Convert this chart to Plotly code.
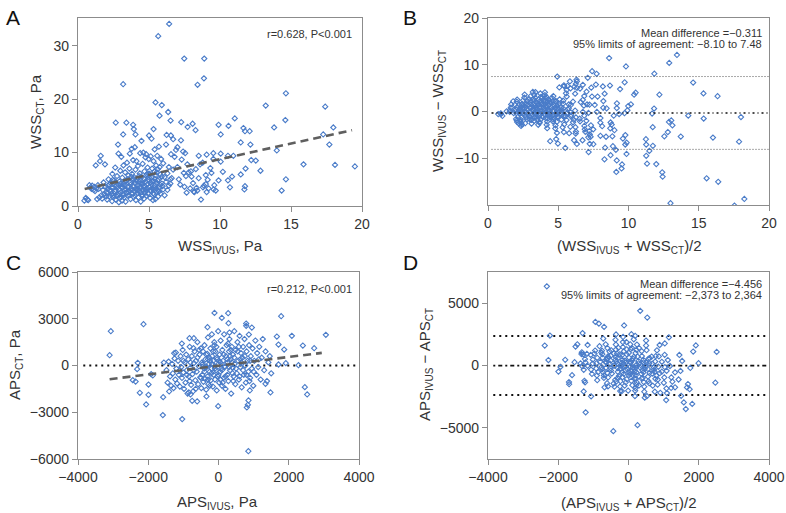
import plotly.graph_objects as go

# ---------------- Panel A / B data: WSS (Pa) ----------------
wss_ivus = [
    6.42, 5.65, 7.48, 8.89, 8.87, 8.42, 3.18,
    5.46, 5.9, 5.74, 6.35, 6.52, 2.66, 3.41, 3.88, 3.93, 7.27, 7.72, 8.07, 8.28, 5.32, 9.9, 10.6, 11.04, 10.05,
    3.18, 4.05, 6.24, 6.54, 7.25, 13.22, 14.64, 17.41, 13.81, 14.6, 11.65, 11.76, 12.09, 11.46, 12.14, 17.27,
    17.98, 17.7, 14.0, 18.1, 19.5, 15.88, 14.64, 14.34, 12.85, 12.52, 12.2, 11.8, 11.76, 11.72, 11.46, 10.85,
    10.7, 10.56, 9.9, 10.2, 10.94, 10.56, 10.05, 9.53, 9.53, 9.06, 8.78, 8.66, 9.55, 9.06, 8.87, 9.13, 9.32,
    10.05, 8.4, 8.2,
    6.1, 6.3, 6.5, 6.6, 6.7, 6.8, 6.9, 7.0, 7.1, 7.2, 7.3, 7.4, 7.45, 7.5, 7.55, 7.6, 7.65, 7.7, 7.8, 7.9,
    7.95, 8.0, 8.1, 8.15, 8.3, 8.35, 8.5, 8.6, 8.8, 9.0, 9.0, 9.2, 9.4, 9.6, 9.7, 8.5, 7.0, 6.2, 6.7, 6.0,
    6.4, 6.55,
    0.45, 0.55, 0.65, 0.72, 0.8, 0.9, 0.95, 1.0, 1.1, 1.15, 1.2, 1.25, 1.3, 1.35, 1.4, 1.45, 1.5, 1.55, 1.6,
    1.65, 1.7, 1.75, 1.8, 1.85, 1.9, 1.95, 2.0, 2.0,
    2.05, 2.1, 2.12, 2.15, 2.2, 2.25, 2.3, 2.35, 2.4, 2.42, 2.45, 2.5, 2.55, 2.6, 2.62, 2.65, 2.7, 2.75, 2.8,
    2.82, 2.85, 2.88, 2.9, 2.92, 2.95, 2.98, 3.0,
    3.05, 3.08, 3.1, 3.12, 3.15, 3.2, 3.22, 3.25, 3.3, 3.32, 3.35, 3.4, 3.42, 3.45, 3.5, 3.52, 3.55, 3.6,
    3.62, 3.65, 3.68, 3.7, 3.75, 3.78, 3.8, 3.82, 3.85, 3.88, 3.9, 3.92, 3.95, 3.98,
    4.0, 4.02, 4.05, 4.08, 4.1, 4.12, 4.15, 4.18, 4.2, 4.22, 4.25, 4.3, 4.32, 4.35, 4.38, 4.4, 4.42, 4.45,
    4.47, 4.5, 4.52, 4.55, 4.58, 4.6, 4.62, 4.65, 4.68, 4.7, 4.72, 4.75, 4.78, 4.8, 4.82, 4.85, 4.88, 4.9,
    4.92, 4.95, 4.98,
    5.0, 5.02, 5.05, 5.08, 5.1, 5.12, 5.15, 5.18, 5.2, 5.22, 5.25, 5.28, 5.3, 5.32, 5.35, 5.38, 5.4, 5.42,
    5.45, 5.48, 5.5, 5.52, 5.55, 5.58, 5.6, 5.62, 5.65, 5.68, 5.7, 5.72, 5.75, 5.78, 5.8, 5.85, 5.9, 5.95,
    2.1, 2.2, 2.3, 2.4, 2.5, 2.6, 2.7, 2.8, 2.9, 3.0, 3.1, 3.2, 3.3, 3.4, 3.5, 3.6, 3.7, 3.8, 3.9, 4.0,
    4.1, 4.2, 4.3, 4.4, 4.5, 4.6, 4.7, 4.8, 4.9, 5.0, 5.1, 5.2, 5.3, 5.4, 5.5, 5.6, 5.7, 5.8, 5.9, 6.0,
    6.1, 6.2, 6.3, 6.4, 6.5, 3.35, 3.55, 3.75, 4.15, 4.35, 4.55, 4.75, 4.95, 5.15, 5.35, 5.55, 2.45, 2.65,
    2.85, 3.05,
]
wss_ct = [
    34.1, 31.8, 27.6, 27.6, 23.9, 22.7, 22.8,
    19.4, 18.9, 16.9, 17.6, 16.0, 15.6, 15.6, 15.2, 14.4, 15.7, 14.8, 15.4, 14.2, 14.4, 15.2, 15.0, 16.4, 13.4,
    13.4, 13.4, 13.3, 13.2, 12.3, 18.8, 21.1, 18.6, 14.7, 16.1, 14.6, 14.0, 14.0, 11.9, 11.5, 13.4,
    14.7, 11.5, 10.4, 7.7, 7.4, 7.8, 5.0, 2.9, 6.6, 8.5, 8.6, 7.0, 3.7, 3.1, 5.9, 5.5,
    3.5, 4.8, 4.8, 6.4, 9.4, 9.4, 9.8, 8.8, 9.9, 9.6, 8.1, 1.2, 3.1, 2.6, 3.8, 4.9, 7.1,
    8.3, 2.9, 2.6,
    2.0, 3.0, 4.2, 5.2, 6.8, 9.2, 10.5, 7.3, 5.0, 4.0, 8.7, 10.2, 6.2, 3.6, 9.9, 5.6, 2.5, 7.8, 6.3, 3.3,
    6.5, 5.5, 4.3, 2.7, 6.9, 3.4, 5.2, 7.8, 3.5, 4.1, 5.8, 3.3, 6.2, 3.9, 2.9, 9.4, 11.0, 11.5, 12.5, 8.0,
    7.3, 9.7,
    1.0, 1.5, 1.2, 1.1, 3.9, 3.5, 3.2, 3.8, 3.0, 3.6, 2.8, 7.6, 3.3, 1.3, 3.9, 3.2, 1.6, 8.4, 9.4,
    2.0, 1.4, 3.0, 4.4, 2.2, 7.8, 3.6, 2.5, 1.8,
    1.2, 2.4, 3.8, 5.0, 1.8, 3.0, 4.3, 2.2, 0.9, 6.0, 3.4, 1.6, 4.8, 2.7, 7.2, 1.2, 3.9, 5.6, 2.1,
    11.5, 9.8, 0.7, 3.1, 4.6, 1.5, 6.6, 2.5,
    9.2, 3.7, 1.0, 5.3, 2.2, 7.6, 4.1, 1.6, 3.0, 6.3, 0.8, 4.8, 2.6, 8.1, 3.6, 1.9, 5.7, 2.9,
    7.0, 9.8, 4.4, 1.3, 3.3, 10.7, 6.0, 2.3, 4.9, 8.6, 3.8, 1.7, 5.4, 2.7,
    11.0, 4.2, 6.8, 1.1, 3.2, 8.4, 5.0, 2.4, 3.9, 7.5, 1.6, 4.6, 2.9, 6.1, 9.9, 3.5, 0.8, 5.5,
    12.2, 2.1, 4.0, 7.9, 3.0, 10.0, 5.2, 1.4, 6.5, 3.7, 2.6, 9.1, 4.5, 9.7, 1.9, 5.9, 3.3, 7.2,
    2.3, 4.9, 8.8,
    13.2, 3.6, 6.0, 1.5, 4.4, 9.3, 2.8, 12.6, 5.3, 7.0, 3.2, 1.1, 4.7, 8.4, 2.2, 6.4, 10.6, 3.9,
    1.3, 5.8, 7.6, 2.6, 4.3, 9.4, 3.0, 6.9, 1.8, 5.0, 11.1, 3.5, 7.3, 4.0, 2.3, 8.8, 5.5, 3.7,
    3.3, 4.0, 2.7, 3.6, 2.0, 4.4, 1.9, 3.5, 2.3, 4.2, 3.4, 2.0, 4.5, 3.1, 5.0, 2.1, 4.0, 3.0, 5.1, 2.0,
    4.7, 3.3, 5.6, 2.5, 4.3, 3.6, 5.0, 2.8, 4.1, 5.4, 3.0, 4.6, 2.4, 5.1, 3.3, 4.8, 2.7, 5.9, 4.2, 3.1,
    5.4, 4.5, 6.1, 3.8, 5.0, 3.9, 2.6, 5.5, 2.9, 4.2, 1.9, 3.1, 6.0, 4.1, 3.5, 6.3, 4.9, 3.0,
    4.0, 1.7,
]

# ---------------- Panel C / D data: APS (Pa) ----------------
aps_ivus = [
    -3100, -3065, -2135, -2300, -2316, -2440, -2360, -2240, -1993, -2060, -1993, -1917, -1870, -1575, -1585,
    -1556, -1404, -1262, -1215, -1044, -826, -702, -712, -1034, -750, -607, -797, -845, -342, -9,
    -114, 95, 275, 285, -313, 313, 788, 788, 949, 864, 1784, 2088, 1661, 3056, 2401, 2724, 2458, 2525,
    2278, 1917, 1708, 1869, 1708, 1480, 1338, 807, 854, 892, 835, 850,
    -1480, -1450, -1420, -1380, -1350, -1320, -1300, -1280, -1250, -1230, -1200, -1180, -1150, -1130,
    -1100, -1080, -1060, -1040, -1020, -1000,
    -980, -960, -940, -920, -900, -880, -860, -840, -820, -800, -780, -760, -740, -720, -700, -680,
    -660, -640, -620, -600, -580, -560, -540, -520, -500,
    -490, -470, -460, -440, -430, -410, -400, -380, -370, -350, -340, -320, -310, -300, -290, -270,
    -260, -250, -230, -220, -200, -190, -180, -160, -150, -140, -120, -110, -100, -90, -70, -60, -50,
    -40, -20, -10, 0,
    20, 30, 50, 60, 80, 100, 110, 130, 150, 160, 180, 200, 210, 230, 250, 260, 280, 300, 310, 330,
    350, 360, 380, 400, 410, 430, 450, 460, 480, 490,
    520, 540, 560, 580, 600, 620, 640, 660, 680, 700, 720, 740, 760, 780, 800, 830, 850, 870, 900,
    920, 950, 970, 990,
    1020, 1050, 1080, 1100, 1130, 1160, 1200, 1230, 1260, 1300, 1340, 1380, 1420, 1460, 1500,
    -900, -800, -700, -600, -500, -450, -400, -350, -300, -250, -200, -150, -100, -50, 0, 50, 100, 150,
    200, 250, 300, 350, 400, 450, 500, 550, 600, 650, 700, 750, 800, 900, 1000, -1100, -1000, -650,
    -550, -250, -120, 120, 270, 420, 580, -380, -180, 20, 180, 380, -820, -300, 60, 330, 620, 880, 1150,
]
aps_ct = [
    660, 2200, 2650, 170, -235, -940, -1030, -1750, -1880, -2500, -1220, -556, -640, -2030, -3184,
    192, -1667, 790, 833, 1410, 1752, 1752, 1111, -3440, -2265, -2307, -1859, -1730, -1987, -2607,
    3376, 3055, 3354, 2713, 2457, 2115, 2692, 2543, 2436, 1987, 3162, 1902, 1859, 1966, 1282, 1111, -1389, -1859,
    21, 150, 64, 1026, 1346, -1730, -1175, -2692, -2243, -1602, -2521, -5500,
    -300, -1100, 250, -700, -1300, 100, -500, -1450, 450, -900, -200, -1150, 300, -600,
    -1350, 600, -100, -800, 1000, -450,
    -1500, 200, -1100, 700, -300, -1800, 400, -700, 1200, -150, -1250, 600, -550, -1650, 150, 900,
    -950, 300, -400, 1500, -1200, -50, 700, -750, 1100,
    -1450, 200, -600, 900, -1050, -200, 1300, -850, 400, -1550, -100, 750, -700, 1800, -1200, 100,
    500, -400, 1100, -950, -200, 2000, 600, -1350, 300, -600, 1500, -50, -900, 900, -300, 1200, -1600,
    400, -700, 2200, 100,
    -1100, 700, -400, 1600, -200, -1300, 1000, 300, -800, 2000, -50, -1500, 600, 1300, -600, 200,
    -1000, 900, 1700, -300, 400, -1800, 1200, -150, 700, -700, 2200, 100, -1200, 1000,
    -500, 1500, 300, -900, 1900, -100, 800, -1400, 500, 1200, -600, 1700, 0, -1100, 900, 300, -400,
    1300, -800, 600, -200, 1100, -1300,
    300, 1600, -600, 800, -100, 1200, -900, 500, 1700, -300, 900, -1000, 200, 600, -500,
    -600, 200, -300, 500, -800, 100, -400, 700, -900, 300, -500, 900, -200, 500, -600, 200, -300, 700,
    -700, 400, -100, 1000, -500, 500, -200, 900, -700, 200, -300, 600, -600, 300, -400, -300, 300, -1500,
    1000, -1300, 1300, -1100, 1400, -1000, 1200, -100, 100, 300, -100, 200, -1000, 400, -900, 600, 400, -1000, 400,
]

# Regression lines (endpoints)
fit_a_x = [0.47, 19.3]
fit_a_y = [3.2, 14.2]
fit_c_x = [-3100, 2940]
fit_c_y = [-880, 810]

# Bland-Altman reference lines
wss_mean_diff = -0.311
wss_loa = [-8.10, 7.48]
aps_mean_diff = -4.456
aps_loa = [-2373, 2364]

# Derived Bland-Altman coordinates
wss_avg = [(a + b) / 2 for a, b in zip(wss_ivus, wss_ct)]
wss_diff = [a - b for a, b in zip(wss_ivus, wss_ct)]
aps_avg = [(a + b) / 2 for a, b in zip(aps_ivus, aps_ct)]
aps_diff = [a - b for a, b in zip(aps_ivus, aps_ct)]

BLUE = "#4a7cc9"
FONT = "Liberation Sans, Arial, sans-serif"
marker = dict(symbol="diamond-open", size=4, color=BLUE, line=dict(width=1.1, color=BLUE))

def sub(t):
    return "<sub><span style='font-size:10px'>" + t + "</span></sub>"

fig = go.Figure()

# A
fig.add_trace(go.Scatter(x=wss_ivus, y=wss_ct, mode="markers", marker=marker, xaxis="x", yaxis="y"))
fig.add_trace(go.Scatter(x=fit_a_x, y=fit_a_y, mode="lines", line=dict(color="#5f5f5f", width=2.6, dash="8px,5px"), xaxis="x", yaxis="y"))
# B
fig.add_trace(go.Scatter(x=wss_avg, y=wss_diff, mode="markers", marker=marker, xaxis="x2", yaxis="y2"))
for v in wss_loa:
    fig.add_trace(go.Scatter(x=[0.25, 20], y=[v, v], mode="lines", line=dict(color="#555", width=1, dash="1px,2px"), xaxis="x2", yaxis="y2"))
fig.add_trace(go.Scatter(x=[0.25, 20], y=[wss_mean_diff, wss_mean_diff], mode="lines", line=dict(color="#111", width=1.6, dash="2px,3px,1px,3px"), xaxis="x2", yaxis="y2"))
# C
fig.add_trace(go.Scatter(x=[-3850, 4000], y=[0, 0], mode="lines", line=dict(color="#111", width=2, dash="2px,4px"), xaxis="x3", yaxis="y3"))
fig.add_trace(go.Scatter(x=aps_ivus, y=aps_ct, mode="markers", marker=marker, xaxis="x3", yaxis="y3"))
fig.add_trace(go.Scatter(x=fit_c_x, y=fit_c_y, mode="lines", line=dict(color="#5f5f5f", width=2.6, dash="8px,5px"), xaxis="x3", yaxis="y3"))
# D
for v in aps_loa:
    fig.add_trace(go.Scatter(x=[-3850, 4000], y=[v, v], mode="lines", line=dict(color="#111", width=2, dash="2px,4px"), xaxis="x4", yaxis="y4"))
fig.add_trace(go.Scatter(x=[-3850, 4000], y=[aps_mean_diff, aps_mean_diff], mode="lines", line=dict(color="#111", width=1.8, dash="2px,3px,4px,3px"), xaxis="x4", yaxis="y4"))
fig.add_trace(go.Scatter(x=aps_avg, y=aps_diff, mode="markers", marker=marker, xaxis="x4", yaxis="y4"))

W, H = 786, 513
def px(x): return x / W
def py(y): return 1 - y / H

axis_common = dict(showline=True, linecolor="#8c8c8c", linewidth=1.2, mirror=True, ticks="outside",
                   ticklen=5, tickcolor="#8c8c8c", showgrid=False, zeroline=False, automargin=False,
                   tickfont=dict(family=FONT, size=14, color="#333"))

fig.update_layout(
    width=W, height=H, margin=dict(l=0, r=0, t=0, b=0, autoexpand=False),
    paper_bgcolor="white", plot_bgcolor="white", showlegend=False,
    font=dict(family=FONT, color="#333"),
    xaxis=dict(axis_common, domain=[px(78), px(362)], range=[0, 20], dtick=5, anchor="y"),
    yaxis=dict(axis_common, domain=[py(206), py(18)], range=[0, 35.2], tickvals=[0, 10, 20, 30], anchor="x"),
    xaxis2=dict(axis_common, domain=[px(488), px(769)], range=[0, 20], dtick=5, anchor="y2"),
    yaxis2=dict(axis_common, domain=[py(205), py(18)], range=[-20, 20], tickvals=[-10, 0, 10, 20],
                ticktext=["\u221210", "0", "10", "20"], anchor="x2"),
    xaxis3=dict(axis_common, domain=[px(78), px(359)], range=[-4000, 4000], tickvals=[-4000, -2000, 0, 2000, 4000],
                ticktext=["\u22124000", "\u22122000", "0", "2000", "4000"], anchor="y3"),
    yaxis3=dict(axis_common, domain=[py(459), py(272)], range=[-6000, 6000], tickvals=[-6000, -3000, 0, 3000, 6000],
                ticktext=["\u22126000", "\u22123000", "0", "3000", "6000"], anchor="x3"),
    xaxis4=dict(axis_common, domain=[px(488), px(769)], range=[-4000, 4000], tickvals=[-4000, -2000, 0, 2000, 4000],
                ticktext=["\u22124000", "\u22122000", "0", "2000", "4000"], anchor="y4"),
    yaxis4=dict(axis_common, domain=[py(459), py(272)], range=[-7500, 7500], tickvals=[-5000, 0, 5000],
                ticktext=["\u22125000", "0", "5000"], anchor="x4"),
)

ann_font = dict(family=FONT, size=11, color="#333")
title_font = dict(family=FONT, size=15, color="#333")
letter_font = dict(family=FONT, size=21, color="#111")
annotations = [
    dict(text="A", x=px(4), y=py(17), xanchor="left", yanchor="middle", font=letter_font),
    dict(text="B", x=px(401), y=py(17), xanchor="left", yanchor="middle", font=letter_font),
    dict(text="C", x=px(4), y=py(262), xanchor="left", yanchor="middle", font=letter_font),
    dict(text="D", x=px(401), y=py(262), xanchor="left", yanchor="middle", font=letter_font),
    # axis titles
    dict(text="WSS" + sub("IVUS") + ", Pa", x=px(220), y=py(246), xanchor="center", yanchor="middle", font=title_font),
    dict(text="WSS" + sub("CT") + ", Pa", x=px(36), y=py(112), xanchor="center", yanchor="middle", textangle=-90, font=title_font),
    dict(text="(WSS" + sub("IVUS") + " + WSS" + sub("CT") + ")/2", x=px(629), y=py(246), xanchor="center", yanchor="middle", font=title_font),
    dict(text="WSS" + sub("IVUS") + " \u2212 WSS" + sub("CT"), x=px(439), y=py(111), xanchor="center", yanchor="middle", textangle=-90, font=title_font),
    dict(text="APS" + sub("IVUS") + ", Pa", x=px(218), y=py(502), xanchor="center", yanchor="middle", font=title_font),
    dict(text="APS" + sub("CT") + ", Pa", x=px(15), y=py(365), xanchor="center", yanchor="middle", textangle=-90, font=title_font),
    dict(text="(APS" + sub("IVUS") + " + APS" + sub("CT") + ")/2", x=px(629), y=py(503), xanchor="center", yanchor="middle", font=title_font),
    dict(text="APS" + sub("IVUS") + " \u2212 APS" + sub("CT"), x=px(425), y=py(365), xanchor="center", yanchor="middle", textangle=-90, font=title_font),
    # stats
    dict(text="r=0.628, P<0.001", x=px(354), y=py(34), xanchor="right", yanchor="middle", font=ann_font),
    dict(text="r=0.212, P<0.001", x=px(354), y=py(289), xanchor="right", yanchor="middle", font=ann_font),
    dict(text="Mean difference =\u22120.311", x=px(764), y=py(33), xanchor="right", yanchor="middle", font=ann_font),
    dict(text="95% limits of agreement: \u22128.10 to 7.48", x=px(764), y=py(44), xanchor="right", yanchor="middle", font=ann_font),
    dict(text="Mean difference =\u22124.456", x=px(764), y=py(284), xanchor="right", yanchor="middle", font=ann_font),
    dict(text="95% limits of agreement: \u22122,373 to 2,364", x=px(764), y=py(295), xanchor="right", yanchor="middle", font=ann_font),
]
for a in annotations:
    a.update(xref="paper", yref="paper", showarrow=False)
fig.update_layout(annotations=annotations)

fig.write_html("out.html", config={"displayModeBar": False},
               post_script="document.body.style.margin='0';document.body.style.padding='0';")
